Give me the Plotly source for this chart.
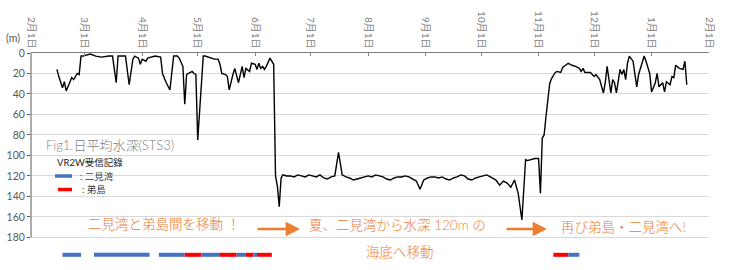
import plotly.graph_objects as go
import pandas as pd

# ---------------- data ----------------
start_date = "2020-02-01"
end_date = "2021-02-01"

# days since 2020-02-01 and daily mean depth (m)
day_offset = [
    14, 15, 17, 18, 19, 21, 22, 23, 25, 26, 27, 28, 30, 32, 35, 38, 42, 44,
    46, 47, 50, 51, 53, 55, 56, 58, 59, 60, 62, 63, 67, 70, 71, 73, 75, 76,
    77, 79, 80, 82, 83, 84, 85, 87, 88, 89, 90, 92, 93, 94, 97, 99, 101, 102,
    103, 105, 106, 107, 109, 110, 112, 113, 114, 115, 116, 118, 119, 121, 122,
    123, 124, 125, 126, 127, 129, 131,
    132, 133, 134, 135, 136, 138, 140, 142, 144, 146, 148, 150, 152, 154, 156,
    158, 160, 162, 164, 166, 168, 170, 172, 174, 176, 178, 180, 182, 184, 186,
    188, 190, 192, 194, 196, 198, 200, 202, 204, 206, 208, 210, 212, 214, 216,
    218, 220, 222, 224, 226, 228, 230, 232, 234, 236, 238, 240, 242, 244, 246,
    248, 250, 251, 253, 255, 257, 259, 261, 263, 265, 267, 268, 270, 272, 274,
    275, 276, 277, 278, 279, 280, 281, 282, 283, 284, 286, 287, 289, 290, 292,
    294, 296, 297, 298, 299, 301, 302, 304, 305, 307, 309, 310, 311, 313, 314,
    315, 316, 318, 319, 320, 321, 322, 323, 325, 326, 327, 328, 330, 331, 332,
    334, 335, 337, 338, 339, 341, 342, 343, 345, 346, 347, 348, 350, 352, 353,
    354,
]
depth_m = [
    16, 23, 34, 28, 37, 29, 24, 26, 20, 21, 3, 3, 2, 1, 3, 4, 3, 3,
    29, 3, 3, 3, 31, 6, 3, 5, 11, 6, 8, 5, 3, 4, 20, 29, 36, 16,
    3, 3, 5, 13, 50, 21, 20, 18, 20, 21, 85, 36, 3, 3, 5, 6, 6, 11,
    20, 21, 23, 36, 21, 15, 29, 20, 13, 24, 15, 18, 10, 11, 16,
    10, 15, 13, 16, 13, 5, 11,
    120, 130, 150, 122, 119, 120, 120, 121, 119, 120, 121, 119, 120, 121, 119,
    122, 123, 121, 120, 97, 119, 121, 122, 124, 123, 122, 121, 120, 121, 119,
    120, 121, 123, 124, 122, 121, 121, 120, 121, 123, 125, 133, 124, 122, 121,
    121, 122, 121, 123, 124, 122, 121, 119, 120, 123, 124, 122, 121, 120, 119,
    121, 123, 124, 129, 125, 127, 131, 124, 137, 163, 104, 105, 104, 103, 103,
    137, 83, 80, 62, 46, 30, 25, 22, 19, 18, 19, 14, 11, 10, 12,
    13, 15, 18, 15, 19, 19, 19, 23, 21, 26, 39, 29, 13, 39, 26,
    29, 39, 16, 21, 16, 26, 10, 3, 8, 23, 33, 21, 10, 3, 8,
    20, 38, 29, 20, 33, 29, 38, 28, 31, 23, 24, 12, 15, 16, 8,
    31,
]

# VR2W receiver records
seg_start = ["2020-02-18", "2020-03-06", "2020-04-10", "2020-04-24", "2020-05-03",
             "2020-05-13", "2020-05-22", "2020-05-27", "2020-05-31", "2020-06-02",
             "2020-11-09", "2020-11-17"]
seg_end = ["2020-02-28", "2020-04-05", "2020-04-24", "2020-05-03", "2020-05-13",
           "2020-05-22", "2020-05-27", "2020-05-31", "2020-06-02", "2020-06-10",
           "2020-11-17", "2020-11-23"]
seg_site = ["二見湾", "二見湾", "二見湾", "弟島", "二見湾",
            "弟島", "二見湾", "弟島", "二見湾", "弟島",
            "弟島", "二見湾"]

y_ticks = [0, 20, 40, 60, 80, 100, 120, 140, 160, 180]

# ---------------- styling ----------------
site_color = {"二見湾": "#4472C4", "弟島": "#FF0000"}
ORANGE = "#ED7D31"
FONT = "Lato, Noto Sans CJK JP"
BAR_LEVEL = 197
W, H = 736, 270
L, R, T, B = 31, 27, 53, 7
PW, PH = W - L - R, H - T - B


def px(x):
    return (x - L) / PW


def py(y):
    return (H - B - y) / PH


dates = pd.Timestamp(start_date) + pd.to_timedelta(day_offset, unit="D")

fig = go.Figure()
fig.add_trace(go.Scatter(x=dates, y=depth_m, mode="lines",
                         line=dict(color="#000000", width=1.4),
                         showlegend=False, hoverinfo="skip"))

for s, e, site in zip(seg_start, seg_end, seg_site):
    fig.add_trace(go.Scatter(x=[s, e], y=[BAR_LEVEL, BAR_LEVEL], mode="lines",
                             line=dict(color=site_color[site], width=4),
                             showlegend=False, hoverinfo="skip"))

shapes = [
    # y axis line (0..180 only)
    dict(type="line", xref="paper", yref="paper", x0=0, x1=0,
         y0=py(T), y1=py(T + 180 * PH / 205), line=dict(color="#595959", width=1)),
    # legend swatches
    dict(type="line", xref="paper", yref="paper", x0=px(55), x1=px(72),
         y0=py(176), y1=py(176), line=dict(color=site_color["二見湾"], width=3.5)),
    dict(type="line", xref="paper", yref="paper", x0=px(58), x1=px(72),
         y0=py(189.5), y1=py(189.5), line=dict(color=site_color["弟島"], width=3.5)),
]

ann = []


def text(t, x, y, size, color, anchor="left", weight=400):
    ann.append(dict(text=t, x=px(x), y=py(y), xref="paper", yref="paper",
                    showarrow=False, xanchor=anchor, yanchor="middle",
                    font=dict(family=FONT, size=size, color=color, weight=weight)))


text("(m)", 13, 38, 10.5, "#595959", "center")
text("Fig1.日平均水深(STS3)", 44, 145, 13, "#808080", weight=300)
text("VR2W受信記錄", 55, 162, 9.5, "#262626")
text(": 二見湾", 78, 176, 9.5, "#404040")
text(": 弟島", 80, 189.5, 9.5, "#404040")
text("二見湾と弟島間を移動 ！", 86, 224, 13.5, ORANGE, weight=300)
text("夏、二見湾から水深 120m の", 307, 225, 13.5, ORANGE, weight=300)
text("海底へ移動", 364, 252, 13.5, ORANGE, weight=300)
text("再び弟島・二見湾へ!", 559, 227, 13.5, ORANGE, weight=300)

for x0, x1, y in [(256, 300, 229), (505, 547, 229)]:
    ann.append(dict(text="", x=px(x1), y=py(y), xref="paper", yref="paper",
                    ax=x0 - x1, ay=0, axref="pixel", ayref="pixel",
                    showarrow=True, arrowhead=2, arrowsize=1.1, arrowwidth=2.6,
                    arrowcolor=ORANGE))

fig.update_layout(
    width=W, height=H,
    margin=dict(l=L, r=R, t=T, b=B, pad=0),
    paper_bgcolor="white", plot_bgcolor="white",
    font=dict(family=FONT, color="#595959"),
    shapes=shapes, annotations=ann,
    xaxis=dict(type="date", range=[start_date, end_date], side="top",
               tick0=start_date, dtick="M1", tickformat="%-m月%-d日",
               tickangle=90, tickfont=dict(size=10, color="#7f7f7f"),
               showline=True, linecolor="#808080", linewidth=1,
               ticks="inside", ticklen=3, tickcolor="#808080",
               showgrid=False, zeroline=False),
    yaxis=dict(range=[205, 0], tickvals=y_ticks,
               tickfont=dict(size=10.5, color="#595959"),
               showline=False, ticks="outside", ticklen=3, tickcolor="#595959",
               showgrid=True, gridcolor="#d9d9d9", gridwidth=1, zeroline=False),
)

fig.write_html("out.html")
